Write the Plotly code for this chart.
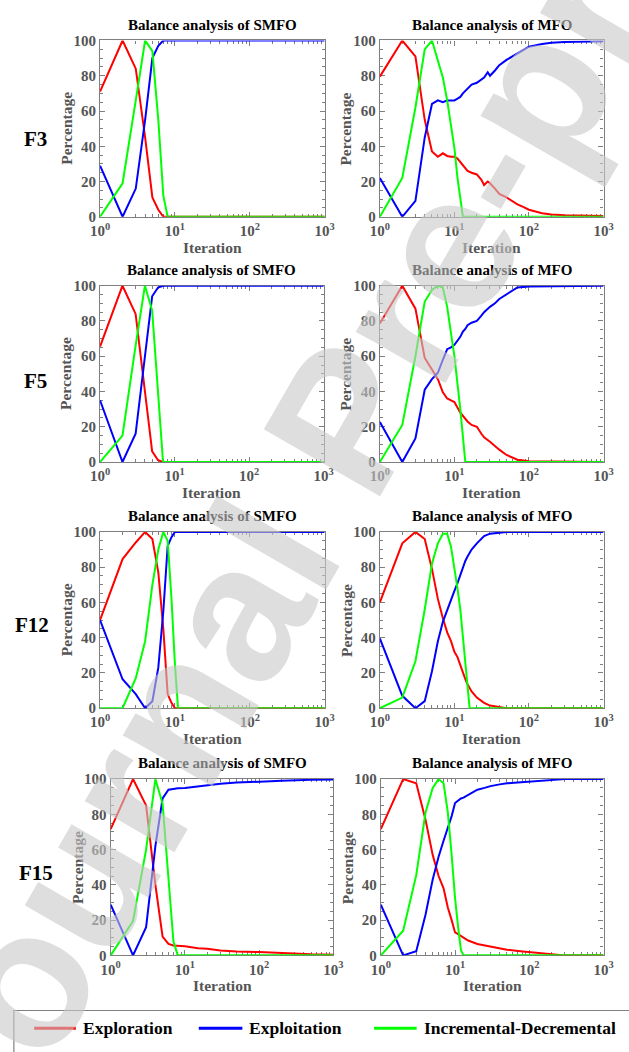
import plotly.graph_objects as go

# ---------------------------------------------------------------------------
# Balance analysis data: percentage of exploration / exploitation and the
# incremental-decremental measure against iteration (log scale).
# ---------------------------------------------------------------------------

# F3 - SMFO
ITER_F3_SMFO = [1, 2, 3, 4, 5, 6, 7, 8, 1000]
XPL_F3_SMFO = [71, 100, 84, 45, 11, 4, 0, 0, 0]
XPT_F3_SMFO = [29, 0, 16, 55, 90, 97, 100, 100, 100]
INC_F3_SMFO = [0, 19, 66, 100, 94, 55, 12, 0, 0]

# F3 - MFO
ITER_F3_MFO = [1, 2, 3, 4, 5, 6, 7, 8, 9, 10, 11, 12, 13, 15, 17, 20, 23, 25, 28,
               30, 35, 40, 50, 60, 70, 85, 100, 150, 200, 300, 500, 1000]
XPL_F3_MFO = [79.5, 100, 91, 55, 37, 34, 36, 34.5, 34, 34, 33, 31, 29, 26, 25, 24,
              21, 18, 20, 19, 16, 13, 11, 9, 7, 5.5, 4, 2, 1.3, 0.8, 0.5, 0.4]
XPT_F3_MFO = [22, 0, 9, 45, 64, 66, 65, 66, 66, 66, 67, 68, 70, 73, 75, 76, 78, 79,
              82, 80, 83, 86, 89, 91, 93, 95, 96.5, 98, 98.7, 99.2, 99.5, 99.6]
INC_F3_MFO = [0, 22, 62, 95, 100, 88, 79, 66, 53, 39, 22, 11, 0, 0, 0, 0, 0, 0, 0,
              0, 0, 0, 0, 0, 0, 0, 0, 0, 0, 0, 0, 0]

# F5 - SMFO
ITER_F5_SMFO = [1, 2, 3, 4, 5, 6, 7, 8, 1000]
XPL_F5_SMFO = [65.5, 100, 84, 40, 6, 1, 0, 0, 0]
XPT_F5_SMFO = [35, 0, 16, 60, 94, 99, 100, 100, 100]
INC_F5_SMFO = [0, 15, 66, 100, 86, 40, 0, 0, 0]

# F5 - MFO
ITER_F5_MFO = [1, 2, 3, 4, 5, 6, 7, 8, 9, 10, 12, 13, 14, 15, 17, 20, 23, 25, 30,
               35, 40, 50, 60, 70, 100, 1000]
XPL_F5_MFO = [78.6, 100, 87, 59, 52.5, 47, 39.5, 36, 35, 34, 28, 26, 24.5, 23, 21,
              20, 16, 14, 11.5, 9, 7, 4, 2.5, 1.3, 0.4, 0]
XPT_F5_MFO = [22.7, 0, 13.4, 41, 47, 50.6, 58, 64, 65, 66.5, 71, 74, 75.5, 77.6,
              79, 80, 83, 85, 88, 90, 92.5, 95, 97.5, 99, 99.6, 100]
INC_F5_MFO = [0, 21, 60, 91, 97.6, 100, 99, 88, 73, 60, 30, 15, 0, 0, 0, 0, 0, 0,
              0, 0, 0, 0, 0, 0, 0, 0]

# F12 - SMFO
ITER_F12_SMFO = [1, 2, 3, 4, 5, 6, 7, 8, 9, 10, 11, 1000]
XPL_F12_SMFO = [50, 84.6, 94, 100, 96, 77, 45, 8, 3, 0, 0, 0]
XPT_F12_SMFO = [50, 16.4, 8, 0, 4, 23, 55, 92, 97, 100, 100, 100]
INC_F12_SMFO = [0, 0, 17, 38, 70, 90, 100, 95, 62, 25, 0, 0]

# F12 - MFO
ITER_F12_MFO = [1, 2, 3, 4, 5, 6, 7, 8, 9, 10, 11, 12, 13, 14, 15, 16, 17, 20, 25,
                30, 40, 50, 1000]
XPL_F12_MFO = [60, 93.5, 100, 96, 79, 62, 51, 43, 38, 32, 29, 24, 20, 16.5, 13.6,
               11, 9.5, 6, 3, 1.5, 0.6, 0, 0]
XPT_F12_MFO = [39.6, 7, 0, 4, 21, 38, 49, 56, 62, 66.5, 71, 76, 80, 83.5, 86, 88,
               90, 93.5, 97.6, 99, 99.8, 100, 100]
INC_F12_MFO = [0, 6, 26.6, 56, 82, 93.5, 99, 99, 91.6, 80.5, 68, 56, 40, 25, 13.6,
               0, 0, 0, 0, 0, 0, 0, 0]

# F15 - SMFO
ITER_F15_SMFO = [1, 2, 3, 4, 5, 6, 7, 8, 10, 15, 20, 30, 50, 100, 200, 500, 1000]
XPL_F15_SMFO = [71.6, 100, 85, 40, 10.6, 6.5, 5.6, 5.6, 5.2, 4, 3.7, 2.8, 2.2, 1.9,
                1.3, 0.6, 0.4]
XPT_F15_SMFO = [28.8, 0, 16, 62, 89, 94, 94.4, 94.8, 95, 96, 96.6, 97.4, 98, 98.3,
                99, 99.6, 99.8]
INC_F15_SMFO = [0, 19.5, 60, 100, 86, 43, 8, 0, 0, 0, 0, 0, 0, 0, 0, 0, 0]

# F15 - MFO
ITER_F15_MFO = [1, 2, 3, 4, 5, 6, 7, 8, 9, 10, 11, 12, 13, 15, 20, 25, 30, 40, 50,
                70, 100, 200, 300, 1000]
XPL_F15_MFO = [71.6, 100, 97.6, 77, 57, 45, 38, 27, 20, 13, 12, 11, 10.5, 8.4, 6.5,
               5.6, 5, 4, 3.2, 2.5, 1.9, 0.6, 0, 0]
XPT_F15_MFO = [28.8, 0, 2.4, 23, 43, 56, 65, 72, 79, 86.4, 88, 89, 89.5, 91, 94, 95,
               96, 97, 97.6, 98, 98.5, 99.4, 100, 100]
INC_F15_MFO = [0, 14, 45.5, 81, 95, 100, 97.6, 81, 57, 32.5, 16, 3, 0, 0, 0, 0, 0,
               0, 0, 0, 0, 0, 0, 0]

FUNCTIONS = ["F3", "F5", "F12", "F15"]
ALGORITHMS = ["SMFO", "MFO"]
SERIES_NAMES = ["Exploration", "Exploitation", "Incremental-Decremental"]
X_TICK_VALUES = [1, 10, 100, 1000]
X_TICK_TEXT = ["10<sup>0</sup>", "10<sup>1</sup>", "10<sup>2</sup>", "10<sup>3</sup>"]
Y_TICK_VALUES = [0, 20, 40, 60, 80, 100]

PANEL_DATA = {
    ("F3", "SMFO"): (ITER_F3_SMFO, XPL_F3_SMFO, XPT_F3_SMFO, INC_F3_SMFO),
    ("F3", "MFO"): (ITER_F3_MFO, XPL_F3_MFO, XPT_F3_MFO, INC_F3_MFO),
    ("F5", "SMFO"): (ITER_F5_SMFO, XPL_F5_SMFO, XPT_F5_SMFO, INC_F5_SMFO),
    ("F5", "MFO"): (ITER_F5_MFO, XPL_F5_MFO, XPT_F5_MFO, INC_F5_MFO),
    ("F12", "SMFO"): (ITER_F12_SMFO, XPL_F12_SMFO, XPT_F12_SMFO, INC_F12_SMFO),
    ("F12", "MFO"): (ITER_F12_MFO, XPL_F12_MFO, XPT_F12_MFO, INC_F12_MFO),
    ("F15", "SMFO"): (ITER_F15_SMFO, XPL_F15_SMFO, XPT_F15_SMFO, INC_F15_SMFO),
    ("F15", "MFO"): (ITER_F15_MFO, XPL_F15_MFO, XPT_F15_MFO, INC_F15_MFO),
}

# ---------------------------------------------------------------------------
# Page geometry (pixels) and styling
# ---------------------------------------------------------------------------
W, H = 629, 1052
# plot-area boxes per (row, col): left, right, top, bottom
BOXES = {
    (0, 0): (93, 325, 33, 212), (0, 1): (382, 613, 33, 212),
    (1, 0): (93, 324, 282, 461), (1, 1): (382, 613, 282, 461),
    (2, 0): (93, 325, 532, 711), (2, 1): (382, 613, 532, 711),
    (3, 0): (104, 334, 783, 962), (3, 1): (383, 613, 783, 962),
}
ROW_LABEL_POS = [(26, 133), (26, 379), (23, 627), (27, 878)]
COLORS = ["#ff0000", "#0000ff", "#00ff00"]
SERIF = "Times New Roman, Liberation Serif, serif"
AXIS_GRAY = "#7f7f7f"
TEXT_GRAY = "#555555"


def fx(px):
    return px / W


def fy(px):
    return 1 - px / H


def bold(txt):
    return "<b>" + txt + "</b>"


minor_x = [m * 10 ** d for d in range(3) for m in range(2, 10)]

fig = go.Figure()
layout = dict(
    width=W, height=H,
    margin=dict(l=0, r=0, t=0, b=0),
    paper_bgcolor="white", plot_bgcolor="white",
    showlegend=False,
)
annotations = []
shapes = []

for r, func in enumerate(FUNCTIONS):
    for c, algo in enumerate(ALGORITHMS):
        n = r * 2 + c + 1
        sfx = "" if n == 1 else str(n)
        x0, x1, y0, y1 = BOXES[(r, c)]
        iters, xpl, xpt, inc = PANEL_DATA[(func, algo)]
        for name, ys, col in zip(SERIES_NAMES, (xpl, xpt, inc), COLORS):
            fig.add_trace(go.Scatter(
                x=iters, y=ys, name=name, mode="lines",
                line=dict(color=col, width=2),
                xaxis="x" + sfx, yaxis="y" + sfx, showlegend=False,
                hoverinfo="skip",
            ))
        tickfont = dict(family=SERIF, size=15, color=TEXT_GRAY)
        layout["xaxis" + sfx] = dict(
            domain=[fx(x0), fx(x1)], anchor="y" + sfx, type="log",
            range=[0, 3], tickmode="array", tickvals=X_TICK_VALUES,
            ticktext=[bold(t) for t in X_TICK_TEXT], ticks="inside", ticklen=5,
            tickwidth=1, tickcolor=AXIS_GRAY, showline=True, linecolor=AXIS_GRAY,
            linewidth=1.3, mirror="ticks", showgrid=False, zeroline=False,
            layer="below traces", tickfont=tickfont,
            minor=dict(tickmode="array", tickvals=minor_x, ticks="inside",
                       ticklen=3, tickcolor=AXIS_GRAY, showgrid=False),
            fixedrange=True,
        )
        layout["yaxis" + sfx] = dict(
            domain=[fy(y1), fy(y0)], anchor="x" + sfx, range=[0, 100],
            tickmode="array", tickvals=Y_TICK_VALUES,
            ticktext=[bold(str(v)) for v in Y_TICK_VALUES], ticks="inside",
            ticklen=5, tickwidth=1, tickcolor=AXIS_GRAY, showline=True,
            linecolor=AXIS_GRAY, linewidth=1.3, mirror="ticks",
            showgrid=False, zeroline=False, layer="below traces",
            tickfont=tickfont,
            minor=dict(dtick=5, ticks="inside", ticklen=3,
                       tickcolor=AXIS_GRAY, showgrid=False),
            fixedrange=True,
        )
        # panel title
        annotations.append(dict(
            text=bold("Balance analysis of " + algo), xref="paper", yref="paper",
            x=fx((x0 + x1) / 2), y=fy(y0 - 16), xanchor="center",
            yanchor="middle", showarrow=False,
            font=dict(family=SERIF, size=15, color="black"),
        ))
        # axis titles
        annotations.append(dict(
            text=bold("Iteration"), xref="paper", yref="paper",
            x=fx((x0 + x1) / 2), y=fy(y1 + 31), xanchor="center",
            yanchor="middle", showarrow=False,
            font=dict(family=SERIF, size=15.5, color=TEXT_GRAY),
        ))
        annotations.append(dict(
            text=bold("Percentage"), xref="paper", yref="paper",
            x=fx(x0 - 35), y=fy((y0 + y1) / 2), xanchor="center",
            yanchor="middle", showarrow=False, textangle=-90,
            font=dict(family=SERIF, size=15.5, color=TEXT_GRAY),
        ))

# row labels
for func, (lx, ly) in zip(FUNCTIONS, ROW_LABEL_POS):
    annotations.append(dict(
        text=bold(func), xref="paper", yref="paper", x=fx(lx), y=fy(ly),
        xanchor="center", yanchor="middle", showarrow=False,
        font=dict(family=SERIF, size=21, color="black"),
    ))

# legend strip at the bottom
shapes.append(dict(type="rect", xref="paper", yref="paper",
                   x0=fx(4), x1=fx(660), y0=fy(1018), y1=fy(1080),
                   line=dict(color="#808080", width=1.2), fillcolor="rgba(0,0,0,0)"))
legend_items = [(25, 68, 73), (195, 240, 245), (376, 420, 426)]
for name, col, (lx0, lx1, tx) in zip(SERIES_NAMES, COLORS, legend_items):
    shapes.append(dict(type="line", xref="paper", yref="paper",
                       x0=fx(lx0), x1=fx(lx1), y0=fy(1036), y1=fy(1036),
                       line=dict(color=col, width=3)))
    annotations.append(dict(
        text=bold(name), xref="paper", yref="paper", x=fx(tx), y=fy(1036),
        xanchor="left", yanchor="middle", showarrow=False,
        font=dict(family=SERIF, size=17.5, color="black"),
    ))

# diagonal "Journal Pre-proof" watermark
annotations.append(dict(
    text=bold("Journal Pre-proof"), xref="paper", yref="paper",
    x=fx(345), y=fy(420), xanchor="center", yanchor="middle",
    showarrow=False, textangle=-60,
    font=dict(family="Liberation Sans, Arial, sans-serif", size=195,
              color="rgba(200,200,200,0.6)"),
))

layout["annotations"] = annotations
layout["shapes"] = shapes
fig.update_layout(**layout)
# the page body gets no default margin so the figure sits at the window origin
fig.write_html(
    "out.html",
    post_script="document.body.style.margin='0px';",
)
